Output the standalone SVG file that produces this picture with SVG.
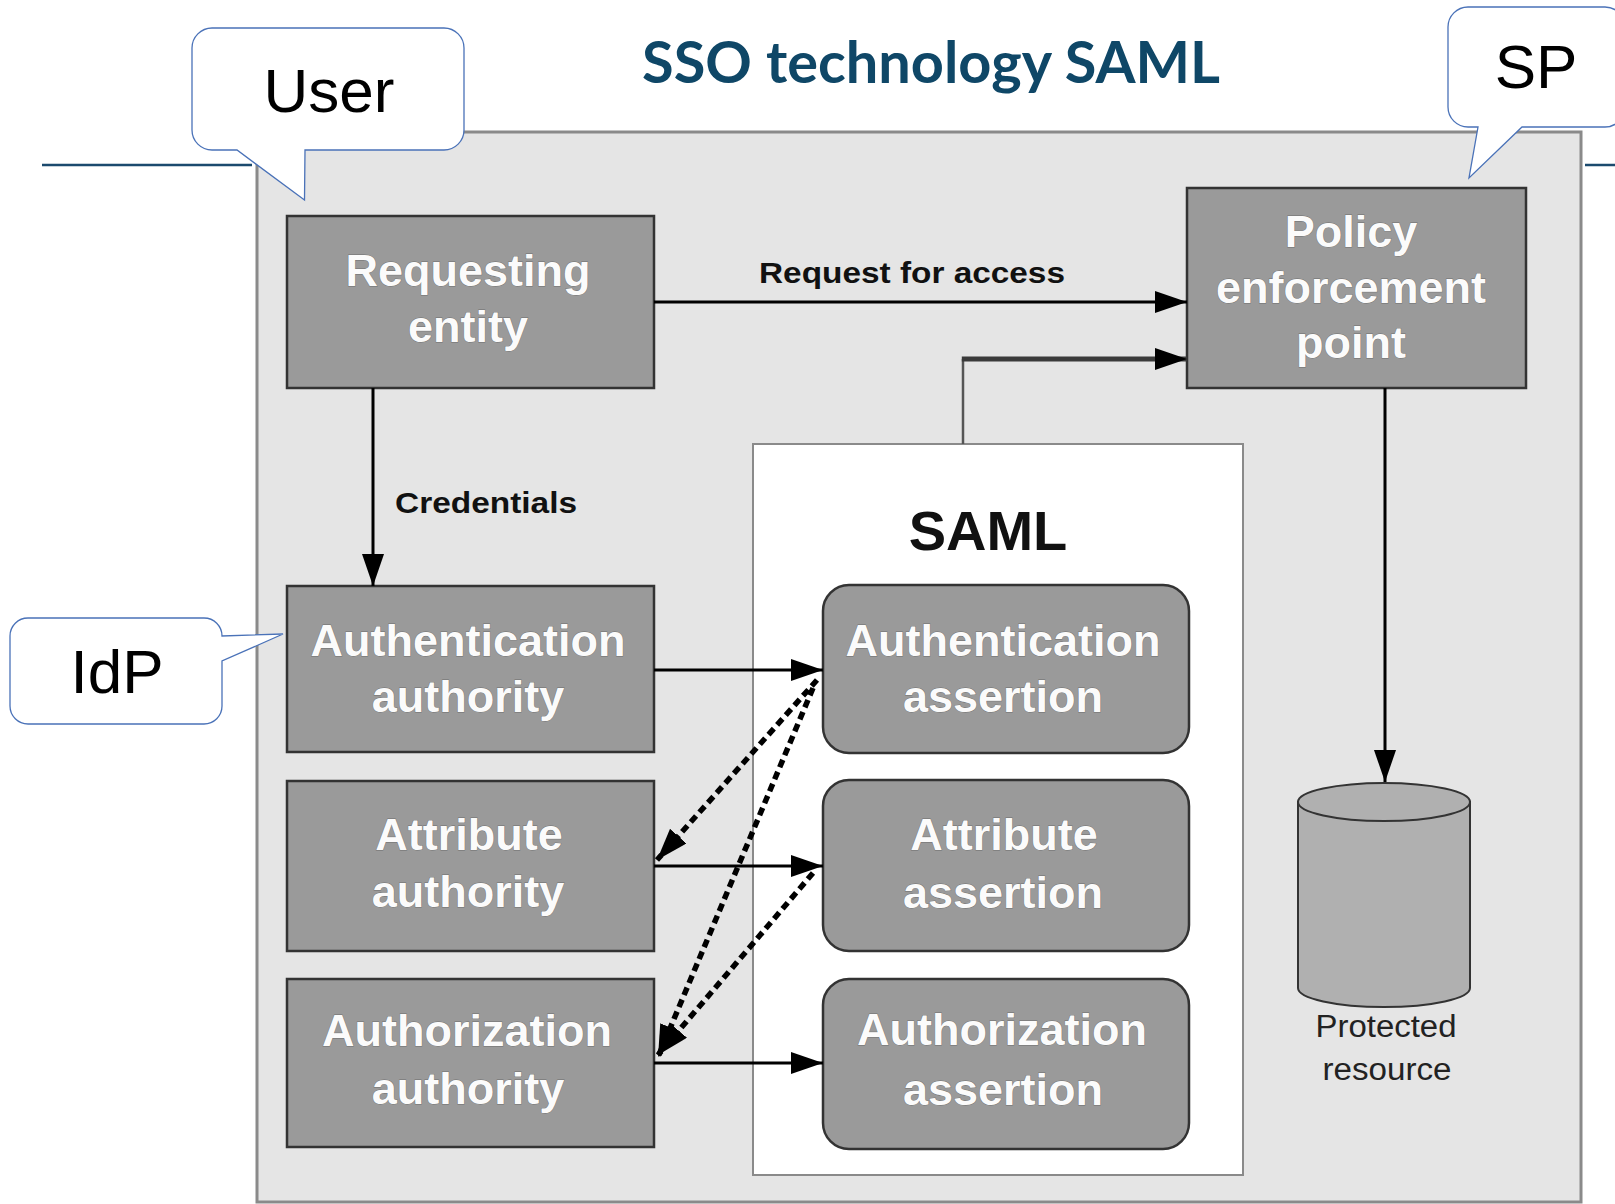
<svg xmlns="http://www.w3.org/2000/svg" width="1615" height="1204" viewBox="0 0 1615 1204">
<style>
.box{fill:#9a9a9a;stroke:#333;stroke-width:2.5}
.abox{fill:#9a9a9a;stroke:#333;stroke-width:2.5}
.nt{font-family:"Liberation Sans",Arial,sans-serif;font-weight:bold;font-size:45px;fill:#fbfbfb;text-anchor:middle;stroke:#6e6e6e;stroke-width:0.8;paint-order:stroke}
.lbl{font-family:"Liberation Sans",Arial,sans-serif;font-weight:bold;font-size:30px;fill:#111}
.bub{fill:#fff;stroke:#4a72b8;stroke-width:1.3}
.bt{font-family:"Liberation Sans",Arial,sans-serif;font-size:62px;fill:#000;text-anchor:middle}
.ln{fill:none;stroke:#000;stroke-width:3}
.dash{fill:none;stroke:#000;stroke-width:5.5;stroke-dasharray:8 5}
</style>
<defs>
<marker id="ah" viewBox="0 0 32 22" refX="32" refY="11" markerWidth="32" markerHeight="22" markerUnits="userSpaceOnUse" orient="auto">
<path d="M0,0 L32,11 L0,22 z" fill="#000"/>
</marker>
</defs>
<rect width="1615" height="1204" fill="#fff"/>
<!-- header rules -->
<line x1="42" y1="165" x2="252" y2="165" stroke="#1b4a6e" stroke-width="2.5"/>
<line x1="1585" y1="165" x2="1615" y2="165" stroke="#1b4a6e" stroke-width="2.5"/>
<text x="931" y="83" font-family="Lato,'Open Sans',sans-serif" font-weight="bold" font-size="57" fill="#0f4767" text-anchor="middle" textLength="578" lengthAdjust="spacingAndGlyphs">SSO technology SAML</text>
<!-- outer container -->
<rect x="257" y="132" width="1324" height="1070" fill="#e5e5e5" stroke="#8a8a8a" stroke-width="3"/>
<!-- SAML container -->
<g id="saml">
<rect x="753" y="444" width="490" height="731" fill="#fff" stroke="#8a8a8a" stroke-width="2"/>
<text x="988" y="550" font-family="Liberation Sans,Arial,sans-serif" font-weight="bold" font-size="56" fill="#111" text-anchor="middle">SAML</text>
</g>
<g id="requesting-entity">
<rect class="box" x="287" y="216" width="367" height="172"/>
<text class="nt" x="468" y="286">Requesting</text>
<text class="nt" x="468" y="342">entity</text>
</g>
<g id="pep">
<rect class="box" x="1187" y="188" width="339" height="200"/>
<text class="nt" x="1351" y="247">Policy</text>
<text class="nt" x="1351" y="303">enforcement</text>
<text class="nt" x="1351" y="358">point</text>
</g>
<g id="authn-authority">
<rect class="box" x="287" y="586" width="367" height="166"/>
<text class="nt" x="468" y="656">Authentication</text>
<text class="nt" x="468" y="712">authority</text>
</g>
<g id="attr-authority">
<rect class="box" x="287" y="781" width="367" height="170"/>
<text class="nt" x="469" y="850">Attribute</text>
<text class="nt" x="468" y="907">authority</text>
</g>
<g id="authz-authority">
<rect class="box" x="287" y="979" width="367" height="168"/>
<text class="nt" x="467" y="1046">Authorization</text>
<text class="nt" x="468" y="1104">authority</text>
</g>
<g id="authn-assertion">
<rect class="abox" x="823" y="585" width="366" height="168" rx="26"/>
<text class="nt" x="1003" y="656">Authentication</text>
<text class="nt" x="1003" y="712">assertion</text>
</g>
<g id="attr-assertion">
<rect class="abox" x="823" y="780" width="366" height="171" rx="26"/>
<text class="nt" x="1004" y="850">Attribute</text>
<text class="nt" x="1003" y="908">assertion</text>
</g>
<g id="authz-assertion">
<rect class="abox" x="823" y="979" width="366" height="170" rx="26"/>
<text class="nt" x="1002" y="1045">Authorization</text>
<text class="nt" x="1003" y="1105">assertion</text>
</g>
<g id="protected-resource">
<path d="M1298,802 V988 A86,19 0 0 0 1470,988 V802 Z" fill="#b0b0b0" stroke="#333" stroke-width="2"/>
<ellipse cx="1384" cy="802" rx="86" ry="19" fill="#b0b0b0" stroke="#333" stroke-width="2"/>
<text x="1386" y="1037" font-family="Liberation Sans,Arial,sans-serif" font-size="31" fill="#222" text-anchor="middle" textLength="141" lengthAdjust="spacingAndGlyphs">Protected</text>
<text x="1387" y="1080" font-family="Liberation Sans,Arial,sans-serif" font-size="31" fill="#222" text-anchor="middle" textLength="129" lengthAdjust="spacingAndGlyphs">resource</text>
</g>
<g id="connectors">
<line class="ln" x1="654" y1="302" x2="1187" y2="302" marker-end="url(#ah)"/>
<text class="lbl" x="759" y="283" textLength="306" lengthAdjust="spacingAndGlyphs">Request for access</text>
<line x1="963" y1="444" x2="963" y2="359" stroke="#555" stroke-width="2.5"/>
<line x1="961.8" y1="359" x2="1187" y2="359" stroke="#3a3a3a" stroke-width="5" marker-end="url(#ah)"/>
<line class="ln" x1="373" y1="388" x2="373" y2="586" stroke-width="3.5" marker-end="url(#ah)"/>
<text class="lbl" x="395" y="513" textLength="182" lengthAdjust="spacingAndGlyphs">Credentials</text>
<line class="ln" x1="1385" y1="388" x2="1385" y2="782" marker-end="url(#ah)"/>
<line class="ln" x1="654" y1="670" x2="823" y2="670" marker-end="url(#ah)"/>
<line class="ln" x1="654" y1="866" x2="823" y2="866" marker-end="url(#ah)"/>
<line class="ln" x1="654" y1="1063" x2="823" y2="1063" marker-end="url(#ah)"/>
<line class="dash" x1="817" y1="680" x2="657" y2="860" marker-end="url(#ah)"/>
<line class="dash" x1="813" y1="688" x2="658" y2="1057" marker-end="url(#ah)"/>
<line class="dash" x1="813" y1="873" x2="658" y2="1055" marker-end="url(#ah)"/>
</g>
<g id="user-callout">
<path class="bub" d="M212,28 H444 A20,20 0 0 1 464,48 V130 A20,20 0 0 1 444,150 H305 L304.5,200 L237,150 H212 A20,20 0 0 1 192,130 V48 A20,20 0 0 1 212,28 Z"/>
<text class="bt" x="329" y="112">User</text>
</g>
<g id="sp-callout">
<path class="bub" d="M1468,7 H1605 A20,20 0 0 1 1625,27 V107 A20,20 0 0 1 1605,127 H1522 L1469,178 L1478,127 H1468 A20,20 0 0 1 1448,107 V27 A20,20 0 0 1 1468,7 Z"/>
<text class="bt" x="1536" y="88">SP</text>
</g>
<g id="idp-callout">
<path class="bub" d="M28,618 H204 A18,18 0 0 1 222,636 L283,634 L222,661 V706 A18,18 0 0 1 204,724 H28 A18,18 0 0 1 10,706 V636 A18,18 0 0 1 28,618 Z"/>
<text class="bt" x="117" y="693">IdP</text>
</g>
</svg>
